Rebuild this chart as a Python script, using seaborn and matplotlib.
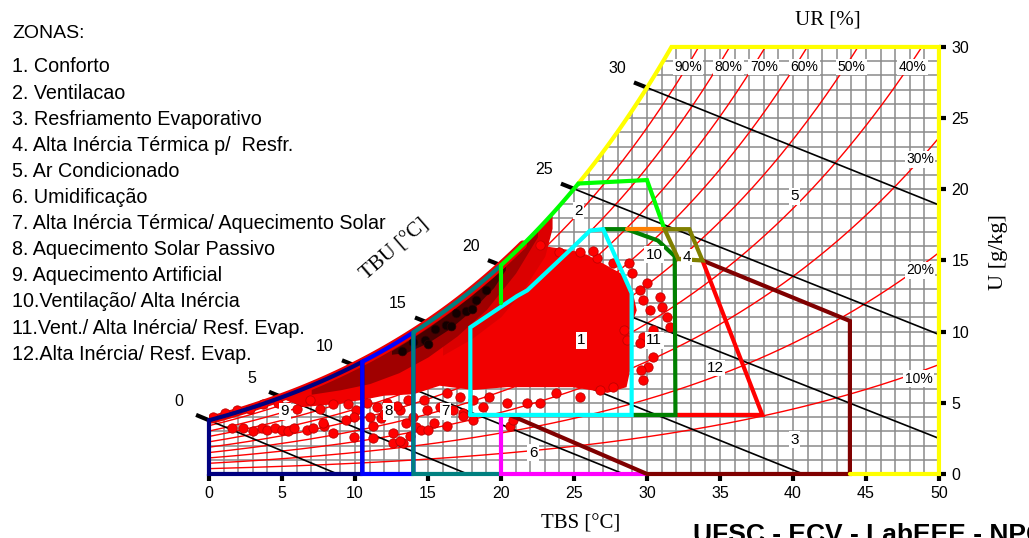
import numpy as np
import matplotlib
matplotlib.use('Agg')
import matplotlib.pyplot as plt
from matplotlib.patches import Polygon
import seaborn as sns

sns.set_theme(style='white')
plt.rcParams['font.family'] = ['Liberation Sans', 'DejaVu Sans']
plt.rcParams['text.color'] = 'black'
plt.rcParams['xtick.color'] = 'black'
plt.rcParams['ytick.color'] = 'black'

# ---- dados ----
zonas = ['1. Conforto', '2. Ventilacao', '3. Resfriamento Evaporativo',
         '4. Alta Inércia Térmica p/  Resfr.', '5. Ar Condicionado',
         '6. Umidificação', '7. Alta Inércia Térmica/ Aquecimento Solar',
         '8. Aquecimento Solar Passivo', '9. Aquecimento Artificial',
         '10.Ventilação/ Alta Inércia', '11.Vent./ Alta Inércia/ Resf. Evap.',
         '12.Alta Inércia/ Resf. Evap.']

ur_niveis = [0.1, 0.2, 0.3, 0.4, 0.5, 0.6, 0.7, 0.8, 0.9]
ur_rotulos = ['90%', '80%', '70%', '60%', '50%', '40%', '30%', '20%', '10%']
ur_rot_T = [32.8, 35.6, 38.0, 40.8, 44.0, 48.2, 48.7, 48.7, 48.6]
ur_rot_w = [28.6, 28.6, 28.6, 28.6, 28.6, 28.6, 22.1, 14.3, 6.7]

tbu_valores = [0, 5, 10, 15, 20, 25, 30]
tbu_fim_T = [8.8, 17.7, 28.4, 40.7, 50, 50, 50]
tbu_fim_w = [0, 0, 0, 0, 2.5, 9.8, 18.9]

zona_num = ['1', '2', '3', '4', '5', '6', '7', '8', '9', '10', '11', '12']
zona_num_T = [25.5, 25.3, 40.1, 32.7, 40.1, 22.2, 16.2, 12.3, 5.2, 30.5, 30.5, 34.7]
zona_num_w = [9.4, 18.5, 2.4, 15.25, 19.5, 1.5, 4.4, 4.4, 4.4, 15.4, 9.4, 7.45]

# contornos das zonas (TBS, U)
conforto_T = [17.9, 17.9, 21.1, 21.8, 24.7, 26.1, 27.0, 28.95, 28.95, 17.9]
conforto_w = [4.15, 10.3, 12.5, 12.9, 15.7, 17.1, 17.2, 12.7, 4.15, 4.15]
vent_inercia_T = [27.0, 28.6, 30.75, 31.9, 31.95, 28.95]
vent_inercia_w = [17.2, 17.2, 16.4, 15.3, 4.15, 4.15]
laranja_T = [28.6, 31.2]
laranja_w = [17.2, 17.2]
inercia_resfr_T = [31.2, 32.9, 33.8, 32.15, 31.2]
inercia_resfr_w = [17.2, 17.2, 15.0, 15.1, 17.2]
inercia_evap_T = [33.8, 37.9, 31.95]
inercia_evap_w = [15.0, 4.15, 4.15]
resf_evap_T = [20.6, 30.0, 43.9, 43.9, 33.8]
resf_evap_w = [4.15, 0, 0, 10.75, 15.0]
umidif_T = [20, 20, 30]
umidif_w = [4.15, 0, 0]
vent_T = [30.0, 31.2]
vent_w = [20.65, 17.2]

# nuvem de pontos horarios
nucleo_T = [4.5, 22.0, 23.0, 24.9, 25.9, 26.8, 28.2, 29.0, 29.3, 28.8, 29.0, 28.6,
            27.3, 24.9, 22.7, 20.4, 18.1, 15.8, 14.0, 12.0, 10.5, 8.5, 6.5, 5.0]
nucleo_w = [6.5, 17.5, 16.0, 15.7, 15.4, 14.9, 14.1, 12.9, 11.5, 10.1, 8.0, 6.1,
            5.7, 6.1, 6.1, 6.1, 5.9, 6.2, 5.6, 5.5, 5.2, 4.9, 4.7, 5.3]
medio_T = [16, 18, 20, 21.5, 23, 23.5]
medio_prof = [3.0, 3.4, 3.6, 3.2, 2.4, 1.0]
escuro_T = [7, 9, 11, 13, 15, 17, 19, 21, 22.5]
escuro_prof = [0.6, 1.2, 1.8, 2.2, 2.4, 2.4, 2.2, 1.5, 0.5]
preto_T = [12.5, 13.5, 15, 16.5, 18, 19.5, 20.3]
preto_prof = [0.6, 1.1, 1.4, 1.5, 1.4, 1.1, 0.6]
# manchas pretas: TBS e distancia abaixo da saturacao (g/kg)
manchas_T = [13.2, 14.0, 14.8, 15.5, 16.2, 16.9, 17.6, 18.3, 19.0, 15.0, 16.6, 18.0]
manchas_prof = [0.8, 0.7, 1.1, 0.8, 1.0, 0.7, 1.1, 0.9, 0.8, 1.5, 1.4, 1.3]

pontos_T = [1.6, 2.3, 3.0, 3.6, 4.0, 4.5, 5.0, 5.4, 5.8, 6.7, 7.1, 7.9, 8.5, 9.9, 7.8,
            1.1, 1.9, 2.8, 3.7, 4.7, 6.0, 6.9, 7.6, 8.5, 9.5, 10.1, 9.9, 9.4, 0.3,
            11.0, 11.8, 11.2, 12.6, 13.3, 13.1, 14.0, 11.2, 12.6, 13.1,
            10.8, 11.5, 12.2, 12.9, 13.6, 12.0, 13.5, 13.8,
            14.9, 15.4, 14.2, 14.7, 15.8, 14.5, 15.0, 16.3, 17.4, 18.1, 16.7, 17.4, 16.3, 17.2,
            18.1, 18.8, 19.2, 20.4, 21.8, 22.7, 23.8, 25.4, 26.8, 27.7, 20.6, 20.8,
            29.7, 29.5, 29.7, 30.2, 30.9, 31.0, 31.4, 31.6, 30.4, 29.7, 29.5, 28.4, 28.6,
            30.4, 30.1, 29.6, 28.8, 29.0, 30.0,
            22.7, 24.0, 25.4, 26.6, 27.7, 26.3]
pontos_w = [3.2, 3.2, 3.0, 3.2, 3.1, 3.2, 3.1, 3.0, 3.2, 3.1, 3.2, 3.4, 2.9, 2.6, 3.6,
            4.3, 4.5, 4.6, 4.9, 5.0, 4.6, 5.2, 4.6, 4.9, 4.9, 4.5, 4.0, 3.8, 4.0,
            4.0, 3.9, 3.4, 2.9, 2.2, 4.5, 4.0, 2.5, 2.2, 2.3,
            5.0, 4.7, 5.0, 4.8, 5.2, 4.2, 3.6, 2.7,
            4.5, 3.6, 3.3, 5.2, 4.7, 3.1, 3.1, 3.4, 4.3, 3.8, 4.5, 4.1, 5.7, 5.4,
            5.2, 4.7, 5.4, 5.0, 5.0, 5.0, 5.7, 5.4, 5.9, 6.1, 3.4, 3.8,
            6.6, 12.9, 12.2, 11.5, 12.4, 11.7, 11.0, 10.3, 10.1, 9.6, 9.2, 10.1, 9.4,
            8.2, 7.5, 7.3, 14.8, 14.1, 13.4,
            16.1, 15.6, 15.6, 15.2, 14.8, 15.7]


def w_sat(T, ur=1.0):
    # razao de umidade (g/kg) ao nivel do mar
    T = np.asarray(T, dtype=float)
    ps = 0.61094 * np.exp(17.625 * T / (T + 243.04))
    return 622 * ur * ps / (101.325 - ur * ps)


def curva_sat(T0, T1, n=60):
    t = np.linspace(T0, T1, n)
    return list(t), list(w_sat(t))


fig = plt.figure(figsize=(10.29, 5.38), dpi=100)
ax = fig.add_axes([0.2031, 0.1190, 0.7094, 0.7937])
ax.set_xlim(0, 50)
ax.set_ylim(0, 30)
for s in ax.spines.values():
    s.set_visible(False)

tt = np.linspace(0, 50, 2001)
T30 = float(np.interp(30, w_sat(tt), tt))
st, sw = curva_sat(0, T30, 200)
recorte = Polygon(list(zip([0] + st + [50, 50], [0] + sw + [30, 0])),
                  closed=True, transform=ax.transData)

# grade
g1 = ax.vlines(range(0, 51), 0, 30, colors='#8a8a8a', lw=1.1, zorder=1)
g2 = ax.hlines(range(0, 31), 0, 50, colors='#8a8a8a', lw=1.1, zorder=1)
g1.set_clip_path(recorte)
g2.set_clip_path(recorte)

# curvas de umidade relativa
tr = np.linspace(0, 50, 401)
for ur in ur_niveis:
    ax.plot(tr, w_sat(tr, ur), color='#ff0000', lw=1.0, zorder=2)

# linhas de bulbo umido
sx, sy = 14.6, 14.23
for v, te, we in zip(tbu_valores, tbu_fim_T, tbu_fim_w):
    w0 = float(w_sat(v))
    ax.plot([v, te], [w0, we], color='black', lw=1.2, zorder=2, clip_on=False)
    dx, dy = (te - v) * sx, (we - w0) * sy
    n = np.hypot(dx, dy)
    ax.plot([v - 14 * dx / n / sx, v], [w0 - 14 * dy / n / sy, w0],
            color='black', lw=3, zorder=2, clip_on=False, solid_capstyle='butt')
    ax.annotate(str(v), (v, w0), xytext=(-30, 19), textcoords='offset pixels',
                ha='center', va='center', fontsize=11.5, annotation_clip=False)

# nuvem de pontos
nuc = ax.fill(nucleo_T, nucleo_w, color='#f20000', lw=0, zorder=3)[0]
nuc.set_clip_path(recorte)
mt = np.array(medio_T, dtype=float)
ax.fill_between(mt, w_sat(mt) - np.array(medio_prof), w_sat(mt),
                color='#dc0000', lw=0, zorder=3)
et = np.array(escuro_T, dtype=float)
ax.fill_between(et, w_sat(et) - np.array(escuro_prof), w_sat(et),
                color='#a00000', lw=0, zorder=3)
pt = np.array(preto_T, dtype=float)
ax.fill_between(pt, w_sat(pt) - np.array(preto_prof), w_sat(pt) - 0.35,
                color='#4a0000', lw=0, zorder=3)
mkt = np.array(manchas_T, dtype=float)
sns.scatterplot(x=mkt, y=w_sat(mkt) - np.array(manchas_prof), s=40, color='#120000',
                edgecolor='#300000', linewidth=0.5, ax=ax, zorder=3, legend=False)
ht, hw = curva_sat(0.2, 21.5)
ax.plot(ht, hw, color='#ee0000', lw=6, zorder=3, solid_capstyle='round')
sns.scatterplot(x=pontos_T, y=pontos_w, s=45, color='#ff0000',
                edgecolor='#c00000', linewidth=0.6, ax=ax, zorder=3, legend=False)

# zonas
kw = dict(lw=3, zorder=4, clip_on=False, solid_joinstyle='miter')
t9, w9 = curva_sat(0, 10.5)
ax.plot([10.5, 0, 0] + t9 + [10.5], [0, 0, w9[0]] + w9 + [0], color='#000080', **kw)
t8, w8 = curva_sat(10.5, 14)
ax.plot([14, 10.5] + t8 + [14], [0, 0] + w8 + [0], color='#0000ff', **kw)
t7, w7 = curva_sat(14, 20)
ax.plot([20, 14] + t7, [0, 0] + w7, color='#008080', **kw)
ax.plot(umidif_T, umidif_w, color='#ff00ff', **kw)
ax.plot(resf_evap_T, resf_evap_w, color='#800000', **kw)
t5, w5 = curva_sat(25.3, T30)
ax.plot(t5 + [50, 50, 43.9], w5 + [30, 0, 0], color='#ffff00', **kw)
ax.plot(inercia_evap_T, inercia_evap_w, color='#ff0000', **kw)
ax.plot(vent_inercia_T, vent_inercia_w, color='#008000', **kw)
ax.plot(conforto_T, conforto_w, color='#00ffff', **kw)
t2, w2 = curva_sat(20, 25.3)
ax.plot([20] + t2 + vent_T, [12.0] + w2 + vent_w, color='#00ff00', **kw)
ax.plot(laranja_T, laranja_w, color='#ff8000', **kw)
ax.plot(inercia_resfr_T, inercia_resfr_w, color='#808000', **kw)

caixa = dict(fc='white', ec='none', pad=1.0)
for txt, x, y in zip(zona_num, zona_num_T, zona_num_w):
    ax.text(x, y, txt, ha='center', va='center', fontsize=11, bbox=caixa, zorder=5)
for txt, x, y in zip(ur_rotulos, ur_rot_T, ur_rot_w):
    ax.text(x, y, txt, ha='center', va='center', fontsize=10, bbox=caixa, zorder=5)

# eixos
ax.set_xticks(range(0, 51, 5))
ax.set_yticks(range(0, 31, 5))
ax.yaxis.tick_right()
ax.tick_params(axis='both', length=5, width=3, color='black', labelsize=11.5,
               labelcolor='black', bottom=True, right=True, left=False, pad=4)
ax.set_xlabel('')
ax.set_ylabel('')

serif = ['Liberation Serif', 'DejaVu Serif']
fig.text(581 / 1029, 1 - 524 / 538, 'TBS [°C]', family=serif, fontsize=15,
         ha='center', va='center')
fig.text(828 / 1029, 1 - 20 / 538, 'UR [%]', family=serif, fontsize=15,
         ha='center', va='center')
fig.text(998 / 1029, 1 - 252 / 538, 'U [g/kg]', family=serif, fontsize=16,
         rotation=90, ha='center', va='center')
fig.text(395 / 1029, 1 - 250 / 538, 'TBU [°C]', family=serif, fontsize=15,
         rotation=41, ha='center', va='center')

fig.text(12 / 1029, 1 - 33 / 538, 'ZONAS:', fontsize=14, va='center')
for i, z in enumerate(zonas):
    fig.text(12 / 1029, 1 - (67 + 26.1 * i) / 538, z, fontsize=14.2, va='center')

fig.text(693 / 1029, -0.008, 'UFSC - ECV - LabEEE - NPC', fontsize=19,
         fontweight='bold', va='baseline', ha='left')

fig.savefig('out.png', dpi=100, facecolor='white')
